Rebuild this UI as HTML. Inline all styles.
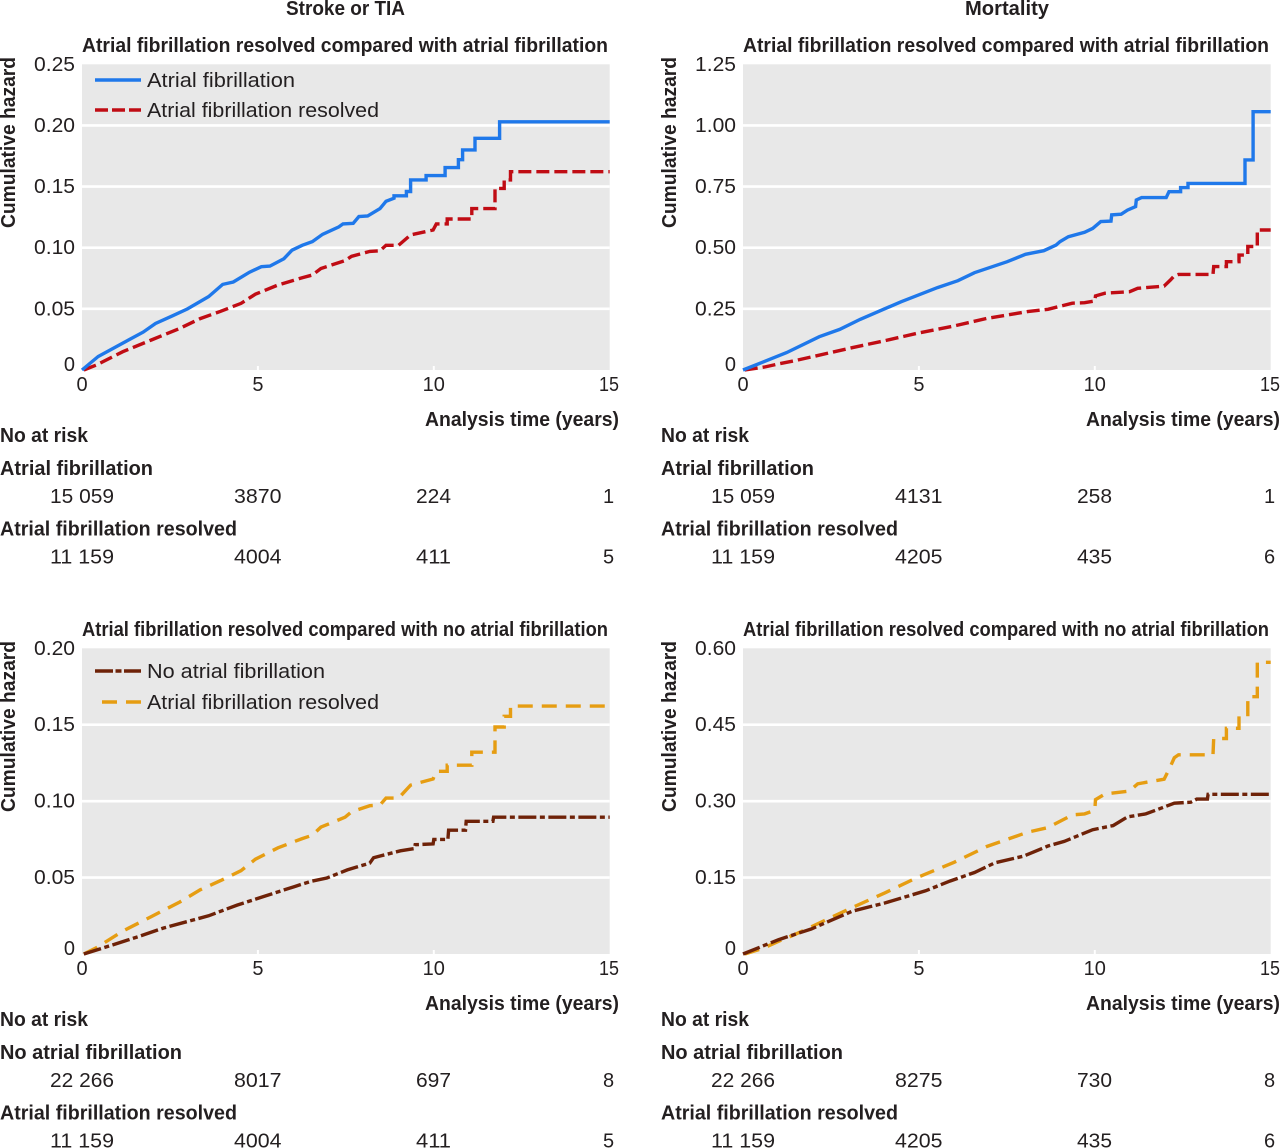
<!DOCTYPE html>
<html lang="en">
<head>
<meta charset="utf-8">
<title>Cumulative hazard of stroke or TIA and mortality</title>
<style>
html,body{margin:0;padding:0;background:#fff;width:1280px;height:1148px;overflow:hidden}
svg{display:block}
text{font-family:"Liberation Sans",sans-serif;fill:#231f20}
.b{font-weight:700}
.t{font-size:20px}
</style>
</head>
<body>
<svg id="figure" xmlns="http://www.w3.org/2000/svg" width="1280" height="1148" viewBox="0 0 1280 1148"></svg>
<script>
// X axis ticks (years)
const xTicks = [0, 5, 10, 15];

// Y axis ticks per panel
const yTicksStroke1 = [0, 0.05, 0.10, 0.15, 0.20, 0.25];
const yTicksMort1 = [0, 0.25, 0.50, 0.75, 1.00, 1.25];
const yTicksStroke2 = [0, 0.05, 0.10, 0.15, 0.20];
const yTicksMort2 = [0, 0.15, 0.30, 0.45, 0.60];

// Stroke or TIA: atrial fibrillation
const strokeAfT = [0,0.46,1.16,1.74,2.09,2.55,3.0,3.6,4.0,4.3,4.76,5.1,5.34,5.74,5.97,6.26,6.55,6.84,7.3,7.42,7.71,7.87,8.12,8.47,8.64,8.87,8.87,9.22,9.22,9.34,9.34,9.78,9.78,10.32,10.32,10.7,10.7,10.82,10.82,11.17,11.17,11.87,11.87,15];
const strokeAfV = [0,0.011,0.022,0.031,0.038,0.044,0.050,0.060,0.070,0.072,0.080,0.0845,0.085,0.091,0.098,0.102,0.105,0.111,0.117,0.1195,0.12,0.1255,0.126,0.132,0.138,0.1405,0.1425,0.1425,0.146,0.146,0.1555,0.1555,0.159,0.159,0.1655,0.1655,0.172,0.172,0.18,0.18,0.1895,0.1895,0.203,0.203];

// Stroke or TIA: atrial fibrillation resolved
const strokeResT = [0.05,0.4,1.16,1.97,2.78,3.36,3.94,4.52,4.93,5.57,6.26,6.55,6.79,7.48,7.66,8.18,8.47,8.64,9.0,9.34,9.98,10.07,10.38,10.38,11.08,11.08,11.74,11.74,12.0,12.0,12.18,12.18,15];
const strokeResV = [0,0.004,0.015,0.0245,0.034,0.042,0.048,0.0545,0.062,0.0695,0.0755,0.0777,0.083,0.0895,0.093,0.097,0.0975,0.102,0.102,0.1105,0.1145,0.1195,0.1195,0.1235,0.1235,0.132,0.132,0.1485,0.1485,0.1555,0.1555,0.1622,0.1622];

// Stroke or TIA: no atrial fibrillation
const strokeNoT = [0.05,0.81,1.62,2.32,3.6,4.41,5.22,6.03,6.5,6.96,7.54,8.18,8.29,9.05,9.45,9.47,9.98,10.0,10.4,10.42,10.9,10.92,11.68,11.7,15];
const strokeNoV = [0,0.0055,0.0115,0.017,0.025,0.032,0.038,0.044,0.0475,0.0497,0.055,0.0595,0.063,0.0675,0.069,0.0715,0.072,0.075,0.075,0.081,0.081,0.0868,0.0868,0.0895,0.0895];

// Mortality: atrial fibrillation
const mortAfT = [0,1.24,2.17,2.75,3.33,4.49,5.53,6.11,6.58,7.51,8.03,8.55,8.9,9.01,9.25,9.71,9.94,10.17,10.46,10.48,10.75,10.93,11.16,11.18,11.33,12.03,12.11,12.44,12.44,12.65,12.65,14.27,14.27,14.5,14.5,15];
const mortAfV = [0,0.071,0.136,0.166,0.207,0.279,0.337,0.365,0.398,0.443,0.473,0.488,0.511,0.525,0.545,0.563,0.579,0.607,0.609,0.634,0.637,0.654,0.668,0.695,0.705,0.705,0.729,0.729,0.746,0.746,0.763,0.763,0.859,0.859,1.056,1.056];

// Mortality: atrial fibrillation resolved
const mortResT = [0.05,0.6,1.01,1.47,2.05,3.1,4.03,4.95,6,6.93,8.09,8.67,9.36,9.71,10,10.02,10.29,10.99,11.22,11.97,12.15,12.26,12.38,13.36,13.38,13.74,13.74,14.1,14.1,14.35,14.35,14.62,14.62,15];
const mortResV = [0,0.012,0.025,0.038,0.057,0.091,0.12,0.15,0.18,0.211,0.239,0.248,0.273,0.275,0.282,0.303,0.314,0.32,0.334,0.343,0.368,0.385,0.391,0.391,0.423,0.423,0.443,0.443,0.47,0.47,0.505,0.505,0.5725,0.5725];

// Mortality: no atrial fibrillation
const mortNoT = [0,1.01,1.94,3.1,4.03,5.19,5.88,6.58,7.16,7.97,8.67,9.13,9.94,10.52,10.93,11.45,12.26,12.73,12.9,13.2,13.22,15];
const mortNoV = [0,0.028,0.049,0.084,0.1,0.124,0.143,0.16,0.179,0.192,0.212,0.221,0.244,0.252,0.269,0.275,0.296,0.298,0.304,0.304,0.3135,0.3135];

// Numbers at risk
const riskLabels = ["Atrial fibrillation", "Atrial fibrillation resolved", "No atrial fibrillation"];
const riskStrokeAf = ["15 059", "3870", "224", "1"];
const riskMortAf = ["15 059", "4131", "258", "1"];
const riskStrokeRes = ["11 159", "4004", "411", "5"];
const riskMortRes = ["11 159", "4205", "435", "6"];
const riskStrokeNo = ["22 266", "8017", "697", "8"];
const riskMortNo = ["22 266", "8275", "730", "8"];

const NS = "http://www.w3.org/2000/svg";
const root = document.getElementById("figure");
const COLORS = {blue:"#1f78ea", red:"#c00c14", brown:"#6e2208", yellow:"#e69d12"};
const DASH = {blue:"", red:"13 5", brown:"18 3.5 5 3.5", yellow:"15 9"};

function make(tag, attrs, parent, content){
  const el = document.createElementNS(NS, tag);
  for (const k in attrs) el.setAttribute(k, attrs[k]);
  if (content !== undefined) el.textContent = content;
  (parent || root).appendChild(el);
  return el;
}

function label(parent, str, x, y, width, name, bold, anchor){
  const el = make("text", {x:x, y:y, "class":"t" + (bold ? " b" : ""), "text-anchor":anchor || "start"}, parent, str);
  if (width) {
    el.setAttribute("textLength", width);
    el.setAttribute("lengthAdjust", "spacingAndGlyphs");
  }
  
  
  return el;
}

function drawPanel(cfg){
  const g = make("g", {}, root);
  
  
  const dx = cfg.dx, dy = cfg.dy;
  const left = 82 + dx, right = 609.7 + dx, top = 64.3 + dy, bottom = 370 + dy;
  const xScale = t => left + t / 15 * (right - left);
  const yScale = v => bottom - v / cfg.yMax * (bottom - top);

  label(g, cfg.title, 82 + dx, 52 + dy, 526, "panel-subtitle", true);

  const bg = make("rect", {x:left, y:top, width:right - left, height:bottom - top, fill:"#e8e8e8"}, g);
  
  

  cfg.yTicks.forEach(v => {
    const y = yScale(v);
    if (v > 0 && v < cfg.yMax) {
      const line = make("line", {x1:left, x2:right, y1:y, y2:y, stroke:"#fff", "stroke-width":2.6}, g);
      
      
    }
    const str = v === 0 ? "0" : v.toFixed(2);
    label(g, str, 75 + dx, v === 0 ? bottom + 1 : y + 6.5, v === 0 ? null : 41, "y-tick-label", false, v === 0 ? "end" : "start")
      .setAttribute("x", v === 0 ? 75 + dx : 34 + dx);
  });

  xTicks.forEach(t => {
    const x = xScale(t);
    if (t > 0 && t < 15) {
      const tick = make("line", {x1:x, x2:x, y1:bottom - 4, y2:bottom, stroke:"#fff", "stroke-width":2}, g);
      
      
    }
    label(g, String(t), t === 15 ? x - 0.7 : x, 391 + dy, t === 15 ? 20 : null, "x-tick-label", false, "middle");
  });

  const yTitle = label(g, "Cumulative hazard", 0, 0, 171, "y-axis-title", true);
  yTitle.setAttribute("transform", "translate(" + (15 + dx) + "," + (228 + dy) + ") rotate(-90)");

  label(g, "Analysis time (years)", 425 + dx, 426 + dy, 194, "x-axis-title", true);

  cfg.series.forEach(s => {
    const pts = s.t.map((t, i) => xScale(t).toFixed(1) + "," + yScale(s.v[i]).toFixed(1)).join(" ");
    const line = make("polyline", {points:pts, fill:"none", stroke:COLORS[s.color], "stroke-width":3.4, "stroke-linejoin":"miter", "stroke-dasharray":DASH[s.color]}, g);
    
    
  });

  if (cfg.legend) {
    cfg.legend.forEach(e => {
      const ly = e.y + dy;
      const key = make("line", {x1:e.x0 + dx, x2:141 + dx, y1:ly, y2:ly, stroke:COLORS[e.color], "stroke-width":3.4, "stroke-dasharray":e.dash || DASH[e.color]}, g);
      
      
      label(g, e.text, 147 + dx, ly + 7, e.w, "legend-entry", false);
    });
  }

  label(g, "No at risk", 0 + dx, 442 + dy, 88, "risk-table-header", true);
  const numX = [[50, 64], [234, 47.5], [416, 35], [603, null]];
  cfg.risk.forEach((row, r) => {
    const offs = r * 60.5;
    label(g, row.label, 0 + dx, 475 + dy + offs, row.w, "risk-row-label", true);
    row.values.forEach((val, i) => {
      label(g, val, numX[i][0] + dx, 503 + dy + offs, numX[i][1], "risk-value", false);
    });
  });
}

const titleA = "Atrial fibrillation resolved compared with atrial fibrillation";
const titleB = "Atrial fibrillation resolved compared with no atrial fibrillation";

const heading1 = label(root, "Stroke or TIA", 286, 15, 119, "column-title-stroke", true);
const heading2 = label(root, "Mortality", 965, 15, 84, "column-title-mortality", true);

drawPanel({name:"panel-stroke-af", title:titleA, dx:0, dy:0, yMax:0.25, yTicks:yTicksStroke1,
  series:[
    {t:strokeResT, v:strokeResV, color:"red", name:"line-af-resolved"},
    {t:strokeAfT, v:strokeAfV, color:"blue", name:"line-af"}
  ],
  legend:[
    {text:riskLabels[0], y:80, x0:95, color:"blue", w:148},
    {text:riskLabels[1], y:110, x0:95, color:"red", w:232, dash:"13 4"}
  ],
  risk:[
    {label:riskLabels[0], w:153, values:riskStrokeAf},
    {label:riskLabels[1], w:237, values:riskStrokeRes}
  ]});

drawPanel({name:"panel-mortality-af", title:titleA, dx:661, dy:0, yMax:1.25, yTicks:yTicksMort1,
  series:[
    {t:mortResT, v:mortResV, color:"red", name:"line-af-resolved"},
    {t:mortAfT, v:mortAfV, color:"blue", name:"line-af"}
  ],
  risk:[
    {label:riskLabels[0], w:153, values:riskMortAf},
    {label:riskLabels[1], w:237, values:riskMortRes}
  ]});

drawPanel({name:"panel-stroke-no-af", title:titleB, dx:0, dy:584, yMax:0.20, yTicks:yTicksStroke2,
  series:[
    {t:strokeResT, v:strokeResV, color:"yellow", name:"line-af-resolved"},
    {t:strokeNoT, v:strokeNoV, color:"brown", name:"line-no-af"}
  ],
  legend:[
    {text:riskLabels[2], y:87, x0:95, color:"brown", w:178, dash:"18 2.5 6 2.5"},
    {text:riskLabels[1], y:118, x0:102, color:"yellow", w:232}
  ],
  risk:[
    {label:riskLabels[2], w:182, values:riskStrokeNo},
    {label:riskLabels[1], w:237, values:riskStrokeRes}
  ]});

drawPanel({name:"panel-mortality-no-af", title:titleB, dx:661, dy:584, yMax:0.60, yTicks:yTicksMort2,
  series:[
    {t:mortResT, v:mortResV, color:"yellow", name:"line-af-resolved"},
    {t:mortNoT, v:mortNoV, color:"brown", name:"line-no-af"}
  ],
  risk:[
    {label:riskLabels[2], w:182, values:riskMortNo},
    {label:riskLabels[1], w:237, values:riskMortRes}
  ]});
</script>
</body>
</html>
